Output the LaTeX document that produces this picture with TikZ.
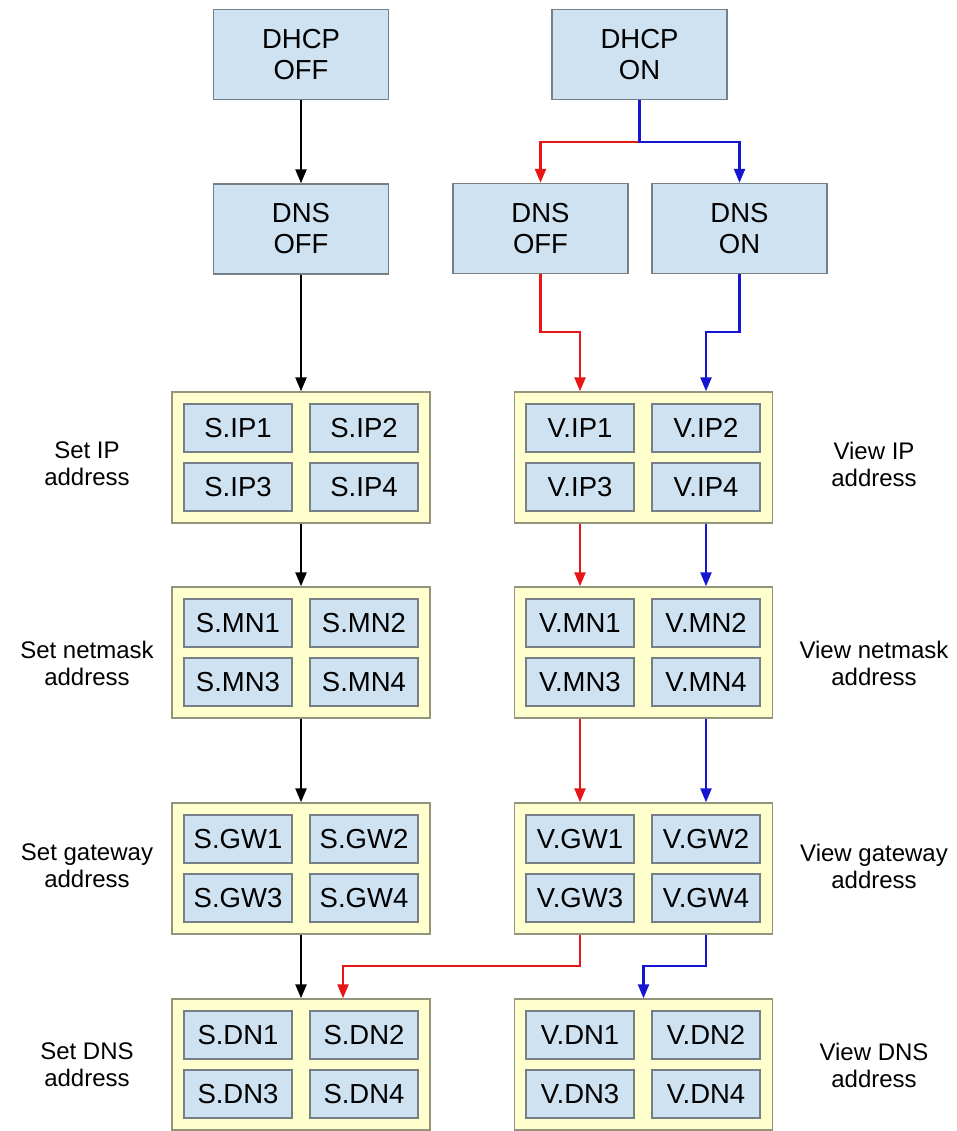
\documentclass[tikz,border=0pt]{standalone}
\usepackage{fontspec}
\setmainfont{Liberation Sans}
\usetikzlibrary{arrows.meta}

\definecolor{boxblue}{RGB}{207,226,241}
\definecolor{boxline}{RGB}{118,126,134}
\definecolor{grpyellow}{RGB}{255,255,206}
\definecolor{grpline}{RGB}{148,148,124}
\definecolor{pathred}{RGB}{232,22,22}
\definecolor{pathblue}{RGB}{22,22,210}

\begin{document}
\begin{tikzpicture}[
            x=1pt, y=-1pt,
            state/.style={draw=boxline, line width=1.4pt, fill=boxblue, inner sep=0pt,
                          minimum width=175pt, minimum height=90pt, align=center,
                          font=\fontsize{27.5}{31}\selectfont},
            cell/.style={draw=boxline, line width=1.4pt, fill=boxblue, inner sep=0pt,
                         minimum width=108pt, minimum height=48pt,
                         font=\fontsize{27.5}{31}\selectfont},
            group/.style={draw=grpline, line width=1.4pt, fill=grpyellow, inner sep=0pt,
                          minimum width=258pt, minimum height=131pt},
            side/.style={align=center, font=\fontsize{24}{27}\selectfont},
            flow/.style={line width=2.4pt, -{Triangle[length=14pt,width=11pt]}}
                           ]
            \useasboundingbox[fill=white] (0,0) rectangle (957,1131);

            % 1. DHCP and DNS states
            \node[state] (dhcpoff) at (301,54.5) {DHCP\\OFF};
            \node[state] (dnsoff)  at (301,229)  {DNS\\OFF};
            \node[state] (dhcpon)  at (639.5,54.5) {DHCP\\ON};
            \node[state] (dnsoffv) at (540.5,228.5) {DNS\\OFF};
            \node[state] (dnson)   at (739.5,228.5) {DNS\\ON};

            % 2. Address groups with their four cells, and the side labels
            \foreach \key/\yc/\yl/\what in {IP/457.5/464/IP, MN/652.5/663/netmask,
                                             GW/868.5/866/gateway, DN/1064.5/1065/DNS} {
                \node[group] (s\key) at (301,\yc) {};
                \node[cell] (s\key1) at (238,\yc-29.5) {S.\key1};
                \node[cell] (s\key2) at (364,\yc-29.5) {S.\key2};
                \node[cell] (s\key3) at (238,\yc+29.5) {S.\key3};
                \node[cell] (s\key4) at (364,\yc+29.5) {S.\key4};

                \node[group] (v\key) at (643.5,\yc) {};
                \node[cell] (v\key1) at (580,\yc-29.5) {V.\key1};
                \node[cell] (v\key2) at (706,\yc-29.5) {V.\key2};
                \node[cell] (v\key3) at (580,\yc+29.5) {V.\key3};
                \node[cell] (v\key4) at (706,\yc+29.5) {V.\key4};

                \node[side] (sl\key) at (87,\yl)  {Set \what\\address};
                \node[side] (vl\key) at (874,\yl) {View \what\\address};
            }

            % 3. DHCP off path (black)
            \draw[flow] (dhcpoff) -- (dnsoff);
            \draw[flow] (dnsoff) -- (sIP);
            \draw[flow] (sIP) -- (sMN);
            \draw[flow] (sMN) -- (sGW);
            \draw[flow] (sGW) -- (sDN);

            % 4. DHCP on, DNS off path (red)
            \path (dhcpon.south) ++(0,42) coordinate (split);
            \draw[flow, pathred] (split) -| (dnsoffv.north);
            \draw[flow, pathred] (dnsoffv.south) -- ++(0,58) -| (vIP1 |- vIP.north);
            \draw[flow, pathred] (vIP1 |- vIP.south) -- (vIP1 |- vMN.north);
            \draw[flow, pathred] (vMN1 |- vMN.south) -- (vMN1 |- vGW.north);
            \coordinate (sdnin) at ([xshift=42pt]sDN.north);
            \draw[flow, pathred] (vGW1 |- vGW.south) -- ++(0,31) -| (sdnin);

            % 5. DHCP on, DNS on path (blue)
            \draw[flow, pathblue] (dhcpon.south) -- (split) -| (dnson.north);
            \draw[flow, pathblue] (dnson.south) -- ++(0,58) -| (vIP2 |- vIP.north);
            \draw[flow, pathblue] (vIP2 |- vIP.south) -- (vIP2 |- vMN.north);
            \draw[flow, pathblue] (vMN2 |- vMN.south) -- (vMN2 |- vGW.north);
            \draw[flow, pathblue] (vGW2 |- vGW.south) -- ++(0,31) -| (vDN.north);

        \end{tikzpicture}
\end{document}
